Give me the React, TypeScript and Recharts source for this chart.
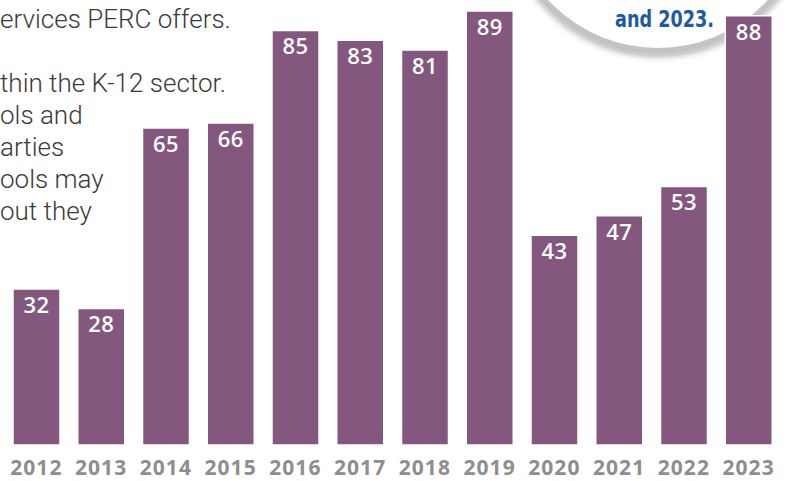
import React from 'react';
import { BarChart, Bar, XAxis, YAxis, LabelList } from 'recharts';

const YEARS = ['2012', '2013', '2014', '2015', '2016', '2017', '2018', '2019', '2020', '2021', '2022', '2023'];
const COUNTS = [32, 28, 65, 66, 85, 83, 81, 89, 43, 47, 53, 88];

// clipped paragraph on the left, one entry per visible line
const INTRO_LINES = ['ervices PERC offers.', '', 'thin the K-12 sector.', 'ols and', 'arties', 'ools may', 'out they'];
const CALLOUT = 'and 2023.';

const BAR_COLOR = '#84577f';

const data = YEARS.map((year, i) => ({ year, count: COUNTS[i] }));

const YearTick = (props: any) => {
  const { x, payload } = props;
  return (
    <text
      x={x}
      y={475}
      textAnchor="middle"
      fill="#8e8e8e"
      fontFamily="'Open Sans', sans-serif"
      fontWeight={700}
      fontSize={21}
      letterSpacing={1}
    >
      {payload.value}
    </text>
  );
};

const ValueLabel = (props: any) => {
  const { x, y, width, value } = props;
  return (
    <text
      x={x + width / 2}
      y={y + 24}
      textAnchor="middle"
      fill="#fff"
      fontFamily="'Open Sans', sans-serif"
      fontWeight={600}
      fontSize={22}
      letterSpacing={0.5}
    >
      {value}
    </text>
  );
};

const App: React.FC = () => {
  return (
    <div style={{ position: 'fixed', left: 0, top: 0, width: 788, height: 481, background: '#fff', overflow: 'hidden' }}>
      {/* background layer: callout circle and text */}
      <svg width={788} height={481} style={{ position: 'absolute', left: 0, top: 0 }}>
        <defs>
          <filter id="ringShadow" x="-20%" y="-20%" width="140%" height="140%">
            <feDropShadow dx="0" dy="3" stdDeviation="3" floodColor="#000" floodOpacity="0.3" />
          </filter>
        </defs>
        <circle cx={658} cy={-102} r={153} fill="#fff" stroke="#c3c3c3" strokeWidth={6} filter="url(#ringShadow)" />
        <text
          x={714}
          y={27}
          textAnchor="end"
          fill="#1f58a5"
          fontFamily="'Liberation Sans Narrow', 'DejaVu Sans Condensed', sans-serif"
          fontWeight={700}
          fontSize={23}
          textLength={99}
          lengthAdjust="spacingAndGlyphs"
        >
          {CALLOUT}
        </text>
        {INTRO_LINES.map((line, i) => (
          <text
            key={i}
            x={0}
            y={28 + i * 32}
            fill="#3a3a3a"
            fontFamily="Roboto, sans-serif"
            fontWeight={300}
            fontSize={26}
          >
            {line}
          </text>
        ))}
      </svg>
      <div style={{ position: 'absolute', left: 0, top: 0 }}>
        <BarChart width={788} height={481} data={data} margin={{ top: 6, right: 7, bottom: 0, left: 4 }}>
          <XAxis dataKey="year" axisLine={false} tickLine={false} height={36} interval={0} tick={<YearTick />} />
          <YAxis hide domain={[0, 90]} />
          <Bar dataKey="count" fill={BAR_COLOR} barSize={47} stroke="#fff" strokeWidth={1.5} isAnimationActive={false}>
            <LabelList dataKey="count" content={<ValueLabel />} />
          </Bar>
        </BarChart>
      </div>
    </div>
  );
};

export default App;
